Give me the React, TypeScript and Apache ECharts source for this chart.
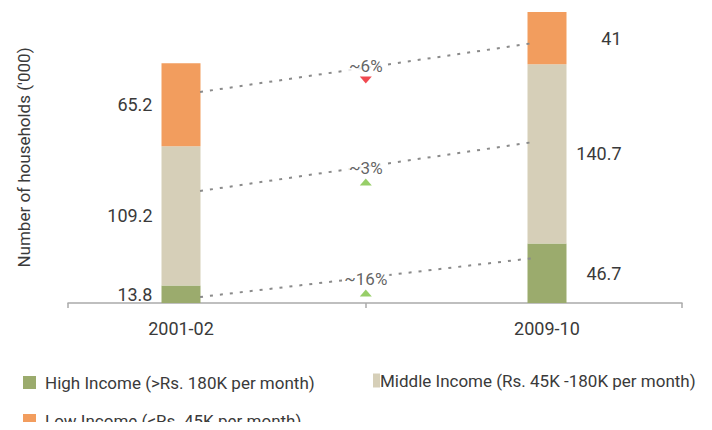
import React, { useEffect, useRef } from "react";
import * as echarts from "echarts";

// ---- data ----
const categories = ["2001-02", "2009-10"];
const highIncome = [13.8, 46.7];
const middleIncome = [109.2, 140.7];
const lowIncome = [65.2, 41];
const seriesNames = [
  "High Income (>Rs. 180K per month)",
  "Middle Income (Rs. 45K -180K per month)",
  "Low Income (<Rs. 45K per month)",
];
const changeLabels = ["~6%", "~3%", "~16%"];
const changeUp = [false, true, true];
// connector end values ('000 households) at each bar
const connectorFrom = [165.6, 87.9, 4.7];
const connectorTo = [204.1, 126.4, 35.3];
const changeMarkerAt = [175, 95, 7.9];

// ---- layout ----
const Y_MAX = 228.4;
const labelSlots = [18.4, 78.0];
const connectorX = [21.5, 75.9];
const midSlot = 48.5;
const FONT = "Roboto, 'Liberation Sans', sans-serif";
const TEXT = "#3a3a3a";
const colors = ["#9bab6d", "#d6cfb8", "#f29d5e"];

export default function App() {
  const ref = useRef<HTMLDivElement>(null);
  useEffect(() => {
    if (!ref.current) return;
    const chart = echarts.init(ref.current, undefined, { renderer: "svg" });

    const labelFor = (i: number) =>
      i === 0
        ? { show: true, position: "left", distance: 9, align: "right", color: TEXT }
        : { show: true, position: "right", distance: 55, align: "right", color: TEXT };

    const barSeries = [highIncome, middleIncome, lowIncome].map((vals, s) => ({
      name: seriesNames[s],
      type: "bar",
      stack: "total",
      xAxisIndex: 0,
      yAxisIndex: 0,
      barWidth: 39,
      itemStyle: { color: colors[s] },
      label: { fontFamily: FONT, fontSize: 18, color: TEXT },
      data: vals.map((v, i) => ({
        value: v,
        label: labelFor(i),
      })),
      z: 2,
    }));

    const connectorSeries = connectorFrom.map((y0, k) => ({
      type: "line",
      silent: true,
      xAxisIndex: 1,
      yAxisIndex: 1,
      symbol: "none",
      lineStyle: { color: "#8a8a8a", width: 2, type: [3, 7] },
      data: [
        [connectorX[0], y0],
        [connectorX[1], connectorTo[k]],
      ],
      z: 3,
    }));

    const markerSeries = {
      type: "scatter",
      silent: true,
      xAxisIndex: 1,
      yAxisIndex: 1,
      symbol: "triangle",
      symbolSize: [12, 7],
      data: changeLabels.map((t, k) => ({
        value: [midSlot, changeMarkerAt[k]],
        symbolRotate: changeUp[k] ? 0 : 180,
        itemStyle: { color: changeUp[k] ? "#7dc242" : "#ec1c24" },
        label: {
          show: true,
          position: "top",
          distance: 2,
          formatter: t,
          fontFamily: FONT,
          fontSize: 17,
          color: TEXT,
          backgroundColor: "#fff",
          padding: [0, 2],
        },
      })),
      z: 4,
    };

    const legendBase = {
      icon: "rect",
      padding: 0,
      itemHeight: 13,
      itemWidth: 13,
      textStyle: { fontFamily: FONT, fontSize: 17, color: TEXT, padding: [0, 0, 0, 4] },
      selectedMode: false,
    };

    chart.setOption({
      animation: false,
      grid: [
        { left: -2, width: 732, top: 12, bottom: 127, outerBoundsMode: "none" },
        { left: 68, right: 30, top: 12, bottom: 127, outerBoundsMode: "none" },
      ],
      xAxis: [
        {
          type: "category",
          gridIndex: 0,
          data: categories,
          show: false,
        },
        {
          type: "value",
          gridIndex: 1,
          min: 0,
          max: 100,
          splitLine: { show: false },
          axisLine: { show: true, lineStyle: { color: "#aaa", width: 1.5 } },
          axisTick: {
            show: true,
            customValues: [0, midSlot, 100],
            length: 5,
            lineStyle: { color: "#aaa", width: 1.5 },
          },
          axisLabel: {
            customValues: labelSlots,
            margin: 16,
            fontFamily: FONT,
            fontSize: 18,
            color: TEXT,
            formatter: (v: number) => {
              const i = labelSlots.findIndex((b) => Math.abs(b - v) < 0.01);
              return i >= 0 ? categories[i] : "";
            },
          },
        },
      ],
      yAxis: [
        { type: "value", gridIndex: 0, min: 0, max: Y_MAX, show: false },
        {
          type: "value",
          gridIndex: 1,
          min: 0,
          max: Y_MAX,
          axisLine: { show: false },
          axisTick: { show: false },
          axisLabel: { show: false },
          splitLine: { show: false },
          name: "Number of households ('000)",
          nameLocation: "middle",
          nameGap: 36,
          nameTextStyle: { fontFamily: FONT, fontSize: 17, color: TEXT },
        },
      ],
      legend: [
        { ...legendBase, left: 23, top: 374, data: [seriesNames[0]] },
        {
          ...legendBase,
          left: 373,
          top: 372,
          itemWidth: 7,
          itemHeight: 14,
          textStyle: { ...legendBase.textStyle, padding: [0, 0, 0, -5] },
          data: [seriesNames[1]],
        },
        { ...legendBase, left: 23, top: 412, data: [seriesNames[2]] },
      ],
      series: [...barSeries, ...connectorSeries, markerSeries],
    });
    return () => chart.dispose();
  }, []);
  return <div ref={ref} style={{ width: 712, height: 430, margin: -8 }} />;
}
